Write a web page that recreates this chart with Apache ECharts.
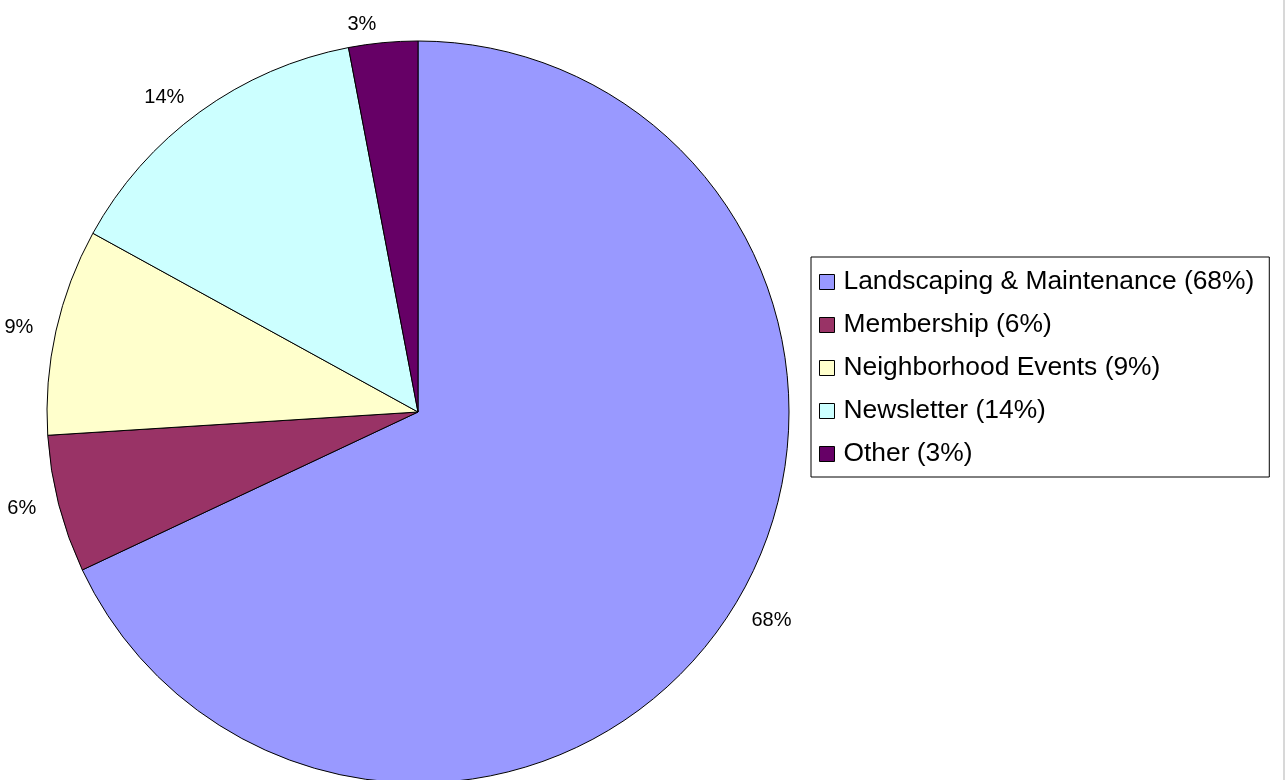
<!DOCTYPE html>
<html>
<head>
<meta charset="utf-8">
<script src="https://cdn.jsdelivr.net/npm/echarts@6/dist/echarts.min.js"></script>
<style>
  html, body { margin: 0; padding: 0; background: #fff; }
  #chart { width: 1285px; height: 780px; }
</style>
</head>
<body>
<div id="chart"></div>
<script>
var categories = ['Landscaping & Maintenance', 'Membership', 'Neighborhood Events', 'Newsletter', 'Other'];
var shares = [68, 6, 9, 14, 3];
var colors = ['#9999FF', '#993366', '#FFFFCC', '#CCFFFF', '#660066'];

var myChart = echarts.init(document.getElementById('chart'));

var pieData = categories.map(function (name, i) {
  return { name: name, value: shares[i], itemStyle: { color: colors[i] } };
});

var option = {
  animation: false,
  backgroundColor: '#fff',
  legend: {
    orient: 'vertical',
    left: 811,
    top: 257,
    padding: [12, 15, 10, 8],
    borderColor: '#000',
    borderWidth: 1,
    itemWidth: 15,
    itemHeight: 15,
    itemGap: 17,
    icon: 'rect',
    itemStyle: { borderColor: '#000', borderWidth: 1 },
    textStyle: {
      fontFamily: 'Liberation Sans, Arial, sans-serif',
      fontSize: 26.4,
      lineHeight: 26,
      color: '#000',
      padding: [0, 0, 0, 4]
    },
    formatter: function (name) {
      var i = categories.indexOf(name);
      return name + ' (' + shares[i] + '%)';
    },
    data: categories
  },
  series: [{
    type: 'pie',
    center: [418, 412],
    radius: 371,
    startAngle: 90,
    clockwise: true,
    avoidLabelOverlap: false,
    itemStyle: { borderColor: '#000', borderWidth: 1 },
    label: {
      show: true,
      position: 'outside',
      formatter: '{c}%',
      fontFamily: 'Liberation Sans, Arial, sans-serif',
      fontSize: 20,
      color: '#000'
    },
    labelLine: { show: false, length: 18, length2: 0 },
    emphasis: { disabled: true },
    data: pieData
  }],
  graphic: [{
    type: 'rect',
    shape: { x: 1283, y: 0, width: 2, height: 780 },
    style: { fill: '#d8d8d8' }
  }]
};

myChart.setOption(option);
</script>
</body>
</html>
